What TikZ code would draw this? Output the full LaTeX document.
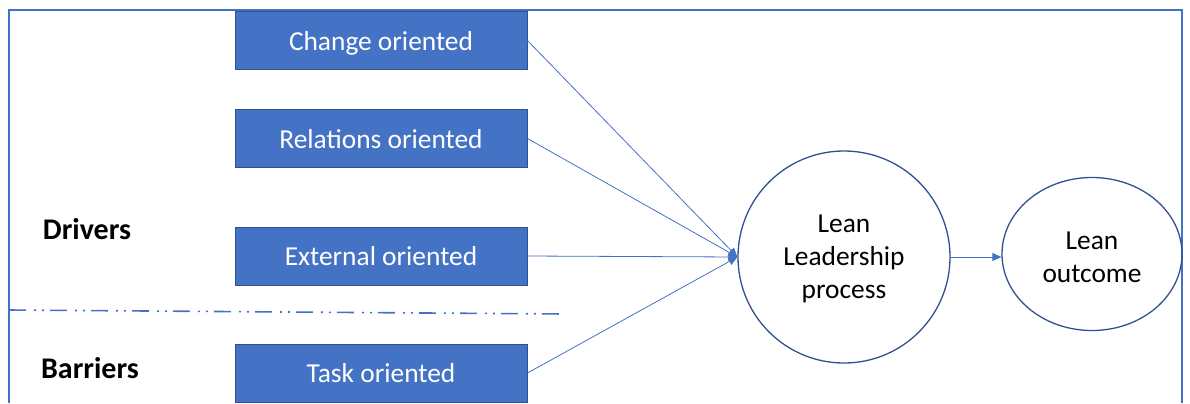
\documentclass[tikz,border=0pt]{standalone}
\usepackage{fontspec}
\setmainfont{Carlito}
\usetikzlibrary{arrows.meta,shapes.geometric}
\definecolor{accent}{RGB}{68,114,196}
\definecolor{accentdark}{RGB}{47,82,143}
\tikzset{
  orientbox/.style={rectangle, fill=accent, draw=accentdark, line width=0.9bp,
    minimum width=292bp, minimum height=58bp, inner sep=0pt,
    text height=19bp, text depth=0bp,
    text=white, font=\fontsize{27.4bp}{33bp}\selectfont},
  bubble/.style={draw=accentdark, line width=1.3bp, align=center,
    font=\fontsize{27.4bp}{33bp}\selectfont, inner sep=0pt},
  feed/.style={draw=accent, line width=0.8bp,
    -{Triangle[length=9bp,width=8bp]}},
  grouplabel/.style={font=\bfseries\fontsize{30bp}{34bp}\selectfont},
}
\begin{document}
\begin{tikzpicture}[x=1bp,y=-1bp]
  \useasboundingbox (0,0) rectangle (1190,403);
  % open frame around the model
  \draw[accent, line width=1.3bp] (9,403) -- (9,10) -- (1182,10) -- (1182,403);

  % leadership behaviour boxes
  \node[orientbox] (change)    at (381,40.5)  {Change oriented};
  \node[orientbox] (relations) at (381,138.5) {Relations oriented};
  \node[orientbox] (external)  at (381,256)   {External oriented};
  \node[orientbox] (task)      at (381,373)   {Task oriented};

  % process and outcome
  \node[bubble, circle, minimum size=212bp, text depth=0bp] (lead) at (844,257)
    {Lean\\Leadership\\process};
  \node[bubble, ellipse, minimum width=180bp, minimum height=153bp] (outcome)
    at (1092,254) {};
  \node[align=center, font=\fontsize{27.4bp}{33bp}\selectfont] (outtext)
    at (1092,257) {Lean\\outcome};

  % group labels
  \node[grouplabel] (drivers)  at (87,229) {Drivers};
  \node[grouplabel] (barriers) at (90,368) {Barriers};

  % divider between drivers and barriers
  \coordinate (divA) at (9,310);
  \coordinate (divB) at (565,314);
  \draw[accent, line width=1.6bp,
    dash pattern=on 17bp off 8bp on 2bp off 6bp on 2bp off 6bp]
    (divA) -- (divB);

  % connectors
  \foreach \src in {change,relations,external,task}
    \draw[feed] (\src.east) -- (lead.west);
  \draw[feed] (lead.east) -- (lead.east -| outcome.west);
\end{tikzpicture}
\end{document}
